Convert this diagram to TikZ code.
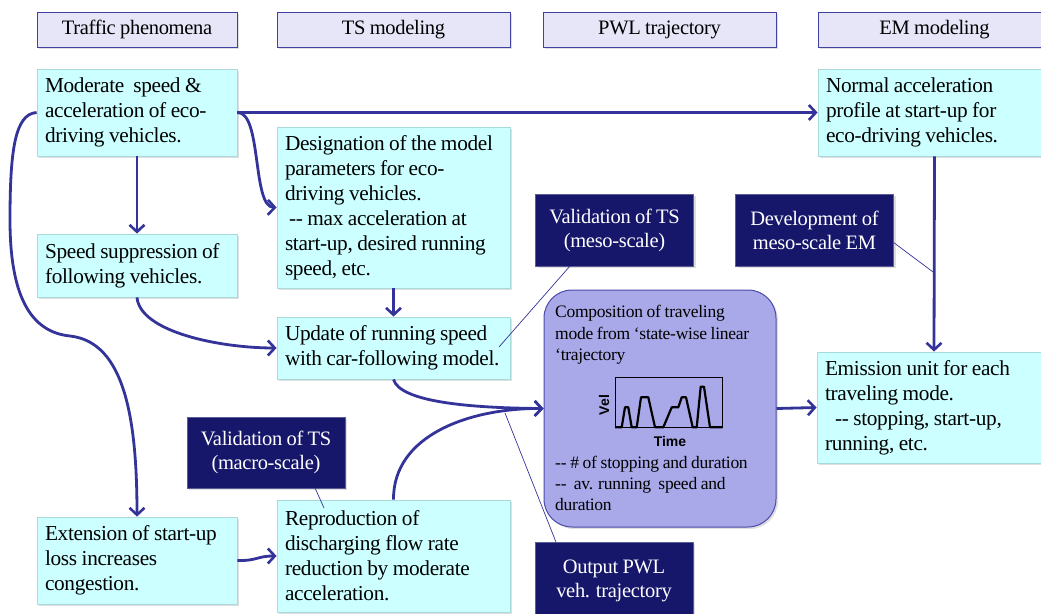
\documentclass[tikz,border=0pt]{standalone}
\usepackage{fontspec}
\setmainfont{Liberation Serif}[LetterSpace=-1.5]
\newfontfamily\chartfont{Liberation Sans}
\usetikzlibrary{arrows.meta,shadows}
\definecolor{linkblue}{HTML}{333399}
\definecolor{headfill}{HTML}{E6E6F8}
\definecolor{headdraw}{HTML}{4040A0}
\definecolor{cyanfill}{HTML}{CCFFFF}
\definecolor{cyandraw}{HTML}{A8DADA}
\definecolor{navyfill}{HTML}{16166B}
\definecolor{compfill}{HTML}{A9A9E9}
\definecolor{compdraw}{HTML}{4B4BAA}
\begin{document}
\begin{tikzpicture}[
    x=1pt, y=-1pt,
    every node/.style={execute at begin node={\spaceskip=0.21em\relax}},
    shade/.style={drop shadow={shadow xshift=2pt, shadow yshift=-2pt, opacity=0.25}},
    header/.style={rectangle, draw=headdraw, fill=headfill, line width=1pt, minimum width=233pt, minimum height=35pt, inner sep=0pt, font=\fontsize{20.5}{24}\selectfont, shade},
    phen/.style={rectangle, draw=cyandraw, fill=cyanfill, line width=0.8pt, align=left, inner xsep=8pt, inner ysep=2pt, font=\fontsize{21.3}{25}\selectfont, shade},
    valid/.style={rectangle, draw=navyfill!70, fill=navyfill, text=white, align=center, minimum width=158pt, inner sep=2pt, font=\fontsize{20.5}{24}\selectfont, shade},
    comp/.style={rectangle, draw=compdraw, fill=compfill, line width=1pt, rounded corners=28pt, minimum width=232pt, minimum height=237pt, shade},
    link/.style={draw=linkblue, line width=2.8pt, -{Straight Barb[length=7pt, width=15pt, line width=2.6pt]}},
    callout/.style={draw=linkblue, line width=0.7pt}
]
    \useasboundingbox (0,0) rectangle (1041,613);

    % Column headers
    \node[header, minimum width=200pt] (hphen) at (137,29.5) {Traffic phenomena};
    \node[header] (hts) at (393.5,29.5) {TS modeling};
    \node[header] (hpwl) at (659.5,29.5) {PWL trajectory};
    \node[header] (hem) at (934.5,29.5) {EM modeling};

    % Traffic phenomena
    \node[phen, text width=184pt, minimum height=87pt] (moderate) at (137,112.5)
        {Moderate~ speed \&\\acceleration of eco-\\driving vehicles.};
    \node[phen, text width=184pt, minimum height=63pt] (speed) at (137,265.5)
        {Speed suppression of\\following vehicles.};
    \node[phen, text width=184pt, minimum height=87pt] (extension) at (137,560.5)
        {Extension of start-up\\loss increases\\congestion.};

    % TS modeling
    \node[phen, text width=217pt, minimum height=161pt] (designation) at (393.5,207.5)
        {Designation of the model\\parameters for eco-\\driving vehicles.\\\hspace{4pt}-{}- max acceleration at\\start-up, desired running\\speed, etc.};
    \node[phen, text width=217pt, minimum height=62pt] (update) at (393.5,348)
        {Update of running speed\\with car-following model.};
    \node[phen, text width=217pt, minimum height=112pt] (repro) at (393.5,556)
        {Reproduction of\\discharging flow rate\\reduction by moderate\\acceleration.};

    % EM modeling
    \node[phen, text width=217pt, minimum height=87pt] (normal) at (934.5,112.5)
        {Normal acceleration\\profile at start-up for\\eco-driving vehicles.};
    \node[phen, text width=218pt, minimum height=111pt] (emission) at (934,407.5)
        {Emission unit for each\\traveling mode.\\\hspace{10pt}-{}- stopping, start-up,\\running, etc.};

    % Validation and output labels
    \node[valid, minimum height=72pt] (valmeso) at (614.5,230) {Validation of TS\\(meso-scale)};
    \node[valid, minimum height=72pt] (dev) at (814.5,230) {Development of\\meso-scale EM};
    \node[valid, minimum height=71pt] (valmacro) at (266,452.5) {Validation of TS\\(macro-scale)};
    \node[valid, minimum height=78pt] (output) at (614,581) {Output PWL\\veh. trajectory};

    % PWL trajectory composition
    \node[comp] (comp) at (660,408.5) {};
    \node[anchor=north west, align=left, inner sep=0pt, font=\fontsize{17.5}{21.5}\selectfont] (comptop) at (555,305)
        {Composition of traveling\\mode from ‘state-wise linear\\‘trajectory};
    \node[anchor=north west, align=left, inner sep=0pt, font=\fontsize{17.5}{21}\selectfont] (compbot) at (555,456)
        {-{}- \# of stopping and duration\\-{}-~ av. running~ speed and\\duration};
    \draw[line width=0.8pt] (615,377.3) rectangle (722.3,427.3);
    \draw[line width=2.2pt, line join=round]
        (615,427.3) -- (621.7,427.3) -- (625,407.3) -- (628.3,407.3) -- (631.7,427.3)
        -- (636.7,427.3) -- (641,397.3) -- (648.3,397.3) -- (655,427.3) -- (663.3,427.3)
        -- (671.7,407.3) -- (678.3,407.3) -- (681.7,397.3) -- (686,397.3) -- (692.7,427.3)
        -- (696.7,427.3) -- (700.7,386.7) -- (704,386.7) -- (710,427.3) -- (722.3,427.3);
    \node[rotate=90, inner sep=0pt, font=\chartfont\bfseries\fontsize{14}{15}\selectfont] (vel) at (604,405) {Vel};
    \node[inner sep=0pt, font=\chartfont\bfseries\fontsize{14}{15}\selectfont] (time) at (670,441) {Time};

    % Connectors
    \draw[link] (moderate.east) -- (normal.west);
    \draw[link] (moderate.east) .. controls (262,112) and (252,207) .. (designation.west);
    \draw[link] (moderate.south) -- (speed.north);
    \draw[link] (moderate.west) .. controls (15,114) and (10,150) .. (10,220)
        .. controls (10,295) and (30,332) .. (70,336)
        .. controls (125,342) and (137,420) .. (extension.north);
    \draw[link] (speed.south) .. controls (140,332) and (220,348) .. (update.west);
    \draw[link] (designation.south) -- (update.north);
    \draw[link] (update.south) .. controls (400,402) and (470,408) .. (comp.west);
    \draw[link] (repro.north) .. controls (393,435) and (470,408) .. (comp.west);
    \draw[link] (extension.east) .. controls (257,561) and (257,556) .. (repro.west);
    \draw[link] (comp.east) -- (emission.west);
    \draw[link] (normal.south) -- (emission.north);

    % Callout lines
    \coordinate (mesotip) at (499,347);
    \coordinate (devtip) at (933,272);
    \coordinate (macrotip) at (324,508);
    \coordinate (outtip) at (505,413);
    \draw[callout] (valmeso.219) -- (mesotip);
    \draw[callout] (dev.-9) -- (devtip);
    \draw[callout] (valmacro.-36) -- (macrotip);
    \draw[callout] (output.146) -- (outtip);
\end{tikzpicture}
\end{document}
